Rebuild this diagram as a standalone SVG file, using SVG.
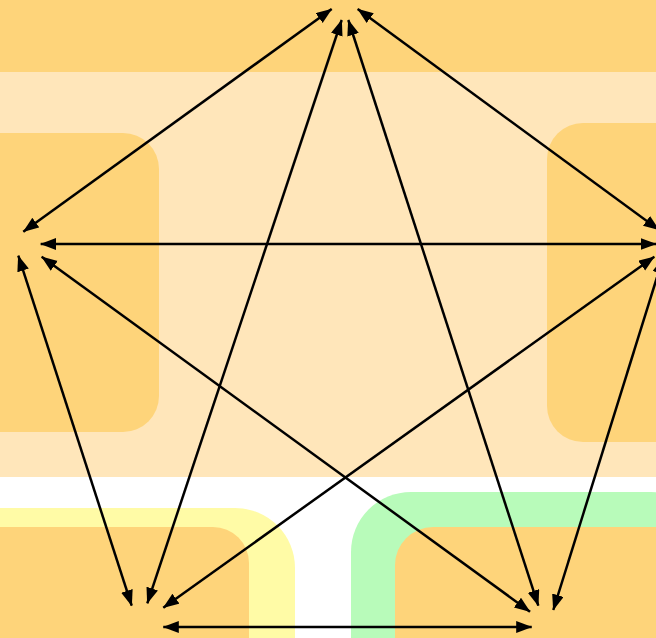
<svg xmlns="http://www.w3.org/2000/svg" width="656" height="638" viewBox="0 0 656 638">
  <defs>
    <style>
      .light { fill: #FFE6BA; }
      .dark { fill: #FED47A; }
      .yellow { fill: #FFFBA6; }
      .green { fill: #B8FBBA; }
      .edge { stroke: #000; stroke-width: 2.5; fill: none; marker-start: url(#ah); marker-end: url(#ah); }
    </style>
    <marker id="ah" markerUnits="userSpaceOnUse" markerWidth="17" markerHeight="13" refX="15.5" refY="6" orient="auto-start-reverse" viewBox="0 0 17 13">
      <path d="M0,0 L16,6 L0,12 Z" fill="#000"/>
    </marker>
  </defs>
  <rect width="656" height="638" fill="#ffffff"/>

  <g id="region-main">
    <rect class="light" x="-40" y="-40" width="740" height="517" rx="30"/>
    <rect class="dark" x="-40" y="-100" width="740" height="172"/>
  </g>
  <g id="region-left">
    <rect class="dark" x="-40" y="133" width="199" height="299" rx="36"/>
  </g>
  <g id="region-right">
    <rect class="dark" x="547" y="123" width="160" height="319" rx="36"/>
  </g>
  <g id="region-bottom-left">
    <rect class="yellow" x="-60" y="508" width="355" height="200" rx="60"/>
    <rect class="dark" x="-60" y="527" width="309" height="180" rx="36"/>
  </g>
  <g id="region-bottom-right">
    <rect class="green" x="351" y="492" width="360" height="220" rx="60"/>
    <rect class="dark" x="395" y="527" width="320" height="180" rx="38"/>
  </g>

  <g id="connectors">
    <line class="edge" x1="331.7" y1="9" x2="23.3" y2="231.7"/>
    <line class="edge" x1="357.7" y1="9" x2="659" y2="230"/>
    <line class="edge" x1="341.7" y1="20" x2="147.3" y2="603.3"/>
    <line class="edge" x1="348.3" y1="20" x2="538.3" y2="605.7"/>
    <line class="edge" x1="40.7" y1="244" x2="656" y2="244"/>
    <line class="edge" x1="18.3" y1="255.7" x2="131.7" y2="605.7"/>
    <line class="edge" x1="41.7" y1="256.7" x2="530" y2="611.7"/>
    <line class="edge" x1="654.3" y1="256.7" x2="163.3" y2="607.7"/>
    <line class="edge" x1="663" y1="258" x2="553.3" y2="610"/>
    <line class="edge" x1="163.3" y1="627" x2="531.7" y2="627"/>
  </g>
</svg>
